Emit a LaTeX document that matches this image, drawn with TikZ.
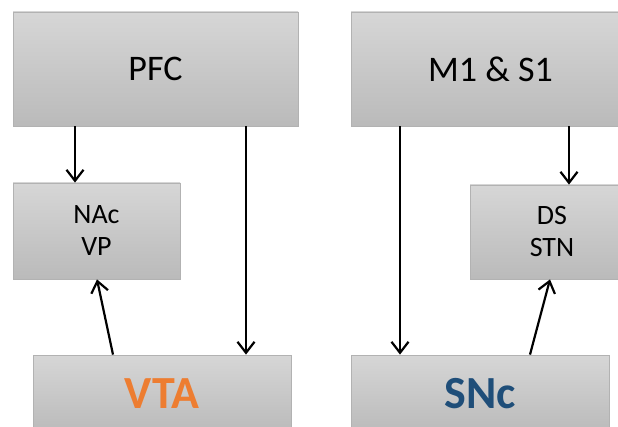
\documentclass[tikz,border=0pt]{standalone}
\usepackage{fontspec}
\setmainfont{Carlito}
\usetikzlibrary{arrows.meta}

\definecolor{vtaorange}{HTML}{ED7D31}
\definecolor{sncblue}{HTML}{1F4E79}

\tikzset{
  region/.style={draw=black!30, line width=0.8pt, top color=black!16,
    bottom color=black!27, inner sep=0pt, align=center},
  link/.style={line width=2.2pt, -{Straight Barb[length=11pt,width=17pt]}}
}

\begin{document}
\begin{tikzpicture}[x=1pt, y=-1pt]
 \useasboundingbox (0,0) rectangle (618,427);
 \clip (0,0) rectangle (618,427);

 \node[region, minimum width=285pt, minimum height=114pt,
   font=\fontsize{36}{42}\selectfont] (pfc) at (155.5,69) {PFC};
 \node[region, minimum width=279pt, minimum height=114pt,
   font=\fontsize{36}{42}\selectfont] (m1s1) at (490.5,69) {M1 \& S1};

 \node[region, minimum width=167pt, minimum height=96pt,
   font=\fontsize{28}{32}\selectfont] (nac) at (96.5,231) {NAc\\VP};
 \node[region, minimum width=164pt, minimum height=94pt,
   font=\fontsize{28}{32}\selectfont] (ds) at (552,232) {DS\\STN};

 \node[region, minimum width=258pt, minimum height=78pt,
   font=\fontsize{46}{52}\selectfont\bfseries, text=vtaorange] (vta) at (162,394) {VTA};
 \node[region, minimum width=258pt, minimum height=78pt,
   font=\fontsize{46}{52}\selectfont\bfseries, text=sncblue] (snc) at (480,394) {SNc};

 % projections
 \draw[link] ([xshift=-80.5pt]pfc.south) -- ([xshift=-80.5pt]pfc.south |- nac.north);
 \draw[link] ([xshift=90.5pt]pfc.south) -- ([xshift=90.5pt]pfc.south |- vta.north);
 \draw[link] ([xshift=-90.5pt]m1s1.south) -- ([xshift=-90.5pt]m1s1.south |- snc.north);
 \draw[link] ([xshift=78.5pt]m1s1.south) -- ([xshift=78.5pt]m1s1.south |- ds.north);
 \draw[link] ([xshift=-49pt]vta.north) -- ([xshift=0.5pt]nac.south);
 \draw[link] ([xshift=50pt]snc.north) -- ([xshift=-2pt]ds.south);
\end{tikzpicture}
\end{document}
